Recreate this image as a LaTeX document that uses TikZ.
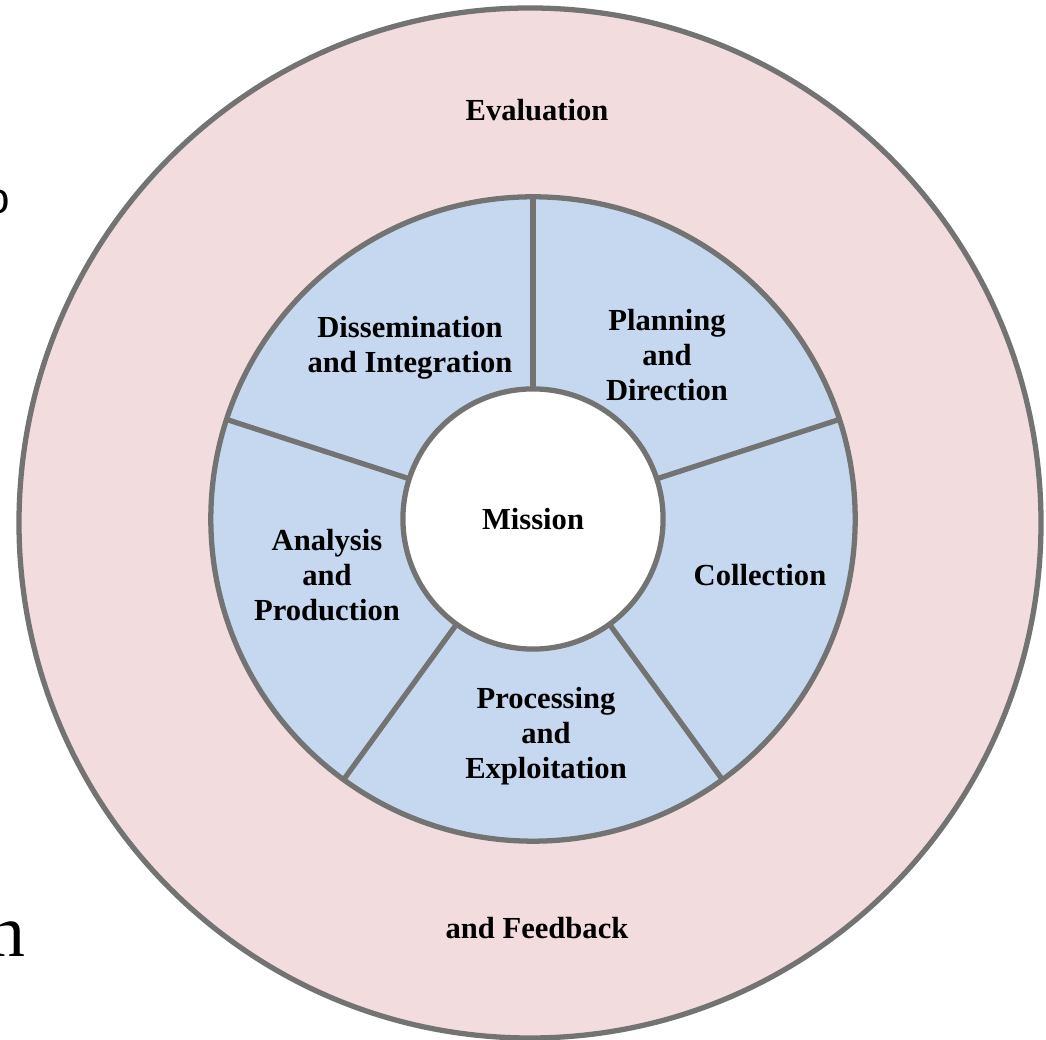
\documentclass[tikz,border=0pt]{standalone}
\usepackage{fontspec}
\setmainfont{Liberation Serif}
\newfontfamily\edgesans{Liberation Sans}
\definecolor{evalpink}{RGB}{242,220,221}
\definecolor{stepblue}{RGB}{198,216,240}
\definecolor{rimgray}{RGB}{115,115,115}
\tikzset{
  rim/.style={draw=rimgray, line width=1.5pt},
  label/.style={font=\bfseries\fontsize{8.7}{10}\selectfont, align=center, inner sep=0pt},
  ringdisc/.style={rim, circle, fill=stepblue, minimum size=6.44cm, inner sep=0pt, outer sep=0pt},
  hubdisc/.style={rim, circle, fill=white, minimum size=2.6cm, inner sep=0pt, outer sep=0pt},
}
\begin{document}
\begin{tikzpicture}[x=0.01cm, y=0.01cm, align=center]
\useasboundingbox (0,0) rectangle (1046,1040);

% Outer ring
\draw[rim, fill=evalpink] (530,517) ellipse [x radius=511, y radius=515];

\node[label] (eval) at (537,930) {Evaluation};
\node[label] (feedback) at (537,112) {and Feedback};

% Cycle steps
\node[ringdisc] (ring) at (533,521) {};
\node[hubdisc, label] (mission) at (533,521) {Mission};

\foreach \a in {18,90,162,234,306}
  \draw[rim] (mission.\a) -- (ring.\a);

\node[label] (dissem) at (410,692) {Dissemination\\and Integration};
\node[label] (plan) at (667,685) {Planning\\and\\Direction};
\node[label] (collect) at (760,465) {Collection};
\node[label] (analysis) at (327,465) {Analysis\\and\\Production};
\node[label] (process) at (546,304) {Processing\\and\\Exploitation};

% Cut-off letters at the left edge
\node[inner sep=0pt, anchor=east, font=\edgesans\fontsize{12.5}{14}\selectfont] (cuto) at (11,838) {o};
\node[inner sep=0pt, anchor=base east, font=\fontsize{21}{24}\selectfont] (cutn) at (26,83) {n};

\end{tikzpicture}
\end{document}
